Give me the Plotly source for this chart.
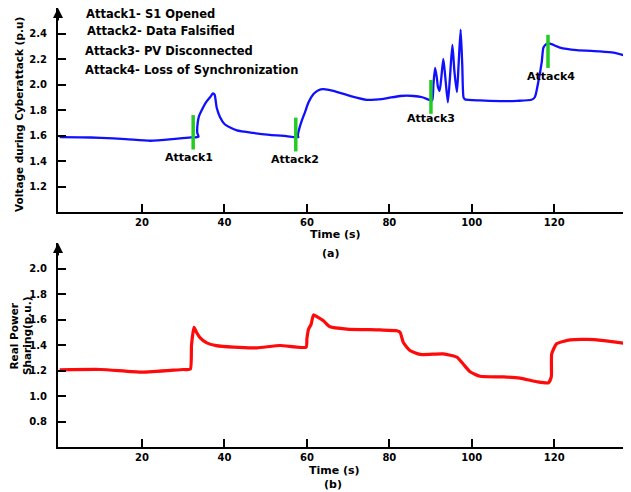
import plotly.graph_objects as go

# ---- data ----
volt_t = [0, 5, 10, 16, 22, 28, 32, 33.0, 33.7, 33.4, 33.5, 33.8, 34.5, 35.5, 36.5, 37.2, 37.6, 38.1, 38.9, 40, 41.5, 43, 47, 51, 55, 57.9,
          57.8, 58.2, 58.8, 59.5, 60.4, 61.6, 62.8, 64, 66.4, 70.5, 74.5, 78.6, 82.6, 85.9, 88, 89.7, 90.4,
          90.7, 91.1, 91.5, 91.8, 92.2, 92.6, 93.1, 93.6, 94.2, 94.7, 95.3, 95.8, 96.4, 96.8, 97.3, 97.7, 98.0, 98.3,
          102, 106.9, 111, 114.5, 115.3,
          116.2, 117.0, 117.4, 118.2, 119.0, 121.4, 125.5, 131.1, 134.4, 136.8]
volt_v = [1.587, 1.586, 1.582, 1.572, 1.559, 1.573, 1.585, 1.586, 1.59, 1.62, 1.70, 1.75, 1.80, 1.86, 1.90, 1.93, 1.92, 1.82, 1.745, 1.69, 1.66, 1.64, 1.62, 1.605, 1.595, 1.587,
          1.60, 1.66, 1.72, 1.78, 1.86, 1.925, 1.955, 1.963, 1.95, 1.91, 1.88, 1.888, 1.91, 1.91, 1.90, 1.88, 1.875,
          2.0, 2.13, 2.06, 1.98, 1.95, 2.05, 2.20, 2.05, 1.86, 2.05, 2.31, 2.10, 1.94, 2.15, 2.43, 2.15, 1.90, 1.885,
          1.875, 1.87, 1.872, 1.88, 1.90,
          2.03, 2.18, 2.29, 2.32, 2.32, 2.29, 2.27, 2.26, 2.25, 2.23]

power_t = [0, 10, 20, 30, 31.7, 32.0, 32.6, 33.2, 34.1, 35.7, 38, 42.2, 47.8, 53.5, 59.8, 60.0, 60.4, 61.0, 61.6, 62.5, 64, 65.6, 69.7, 77.7,
           81.8, 82.6, 83.4, 85, 87.5, 93.1, 96.4, 98.2, 99.6, 102, 107.7, 111.7, 115.8, 118.6, 119.3, 119.4, 120.6, 123.9, 127.9, 132, 136.8]
power_v = [1.205, 1.208, 1.187, 1.208, 1.21, 1.40, 1.538, 1.50, 1.456, 1.417, 1.395, 1.383, 1.378, 1.396, 1.383, 1.45, 1.525, 1.56, 1.636, 1.62, 1.59, 1.543, 1.525, 1.518,
           1.512, 1.50, 1.42, 1.357, 1.326, 1.33, 1.305, 1.24, 1.19, 1.155, 1.15, 1.14, 1.112, 1.104, 1.15, 1.33, 1.41, 1.44, 1.444, 1.435, 1.414]

attack_t = [32.4, 57.3, 90.1, 118.5]
attack_lo = [1.49, 1.475, 1.77, 2.13]
attack_hi = [1.76, 1.74, 2.036, 2.39]
attack_names = ["Attack1", "Attack2", "Attack3", "Attack4"]
legend_lines = ["Attack1- S1 Opened", "Attack2- Data Falsified",
                "Attack3- PV Disconnected", "Attack4- Loss of Synchronization"]

x_ticks = [20, 40, 60, 80, 100, 120]
volt_ticks = [1.2, 1.4, 1.6, 1.8, 2.0, 2.2, 2.4]
power_ticks = [0.8, 1.0, 1.2, 1.4, 1.6, 1.8, 2.0]

# ---- figure ----
OFF = 8                      # page body margin of the html page
W, H = 631 - OFF, 492 - OFF
L, R, T, B = 58 - OFF, 1, 0, 45
PW, PH = W - L - R, H - T - B


def px(xp):                  # reference pixel -> paper x
    return (xp - OFF - L) / PW


def py(yp):                  # reference pixel -> paper y
    return (H - B - (yp - OFF)) / PH


BOLD = dict(family="DejaVu Sans", weight="bold", color="black")

fig = go.Figure()
fig.add_trace(go.Scatter(x=volt_t, y=volt_v, mode="lines",
                         line=dict(color="#1010ff", width=2.3, shape="spline", smoothing=0.6),
                         xaxis="x", yaxis="y", showlegend=False, hoverinfo="skip"))
for t, lo, hi in zip(attack_t, attack_lo, attack_hi):
    fig.add_trace(go.Scatter(x=[t, t], y=[lo, hi], mode="lines", line=dict(color="#22cc22", width=3.5),
                             xaxis="x", yaxis="y", showlegend=False, hoverinfo="skip"))
fig.add_trace(go.Scatter(x=power_t, y=power_v, mode="lines",
                         line=dict(color="#ff0a0a", width=3.2, shape="spline", smoothing=0.5),
                         xaxis="x2", yaxis="y2", showlegend=False, hoverinfo="skip"))

top_dom = [py(212), py(8)]
bot_dom = [py(447), py(243)]

axis_common = dict(showgrid=False, zeroline=False, showline=True, linecolor="black", linewidth=2,
                   ticks="inside", ticklen=8, tickwidth=1.5, tickcolor="black",
                   tickfont=dict(size=10, **BOLD))

fig.update_layout(
    width=W, height=H, margin=dict(l=L, r=R, t=T, b=B),
    paper_bgcolor="white", plot_bgcolor="white",
    xaxis=dict(domain=[0, 1], range=[-0.4, 138.4], anchor="y", tickvals=x_ticks,
               ticklabelstandoff=0, **axis_common),
    yaxis=dict(domain=top_dom, range=[1.0, 2.6], anchor="x", tickvals=volt_ticks,
               tickformat=".1f", ticklabelstandoff=7, **axis_common),
    xaxis2=dict(domain=[0, 1], range=[-0.4, 138.4], anchor="y2", tickvals=x_ticks,
                ticklabelstandoff=0, **axis_common),
    yaxis2=dict(domain=bot_dom, range=[0.6, 2.2], anchor="x2", tickvals=power_ticks,
                tickformat=".1f", ticklabelstandoff=7, **axis_common),
)

ann = []
for txt, yy, xx in zip(legend_lines, [14, 31, 51, 70], [85, 86, 84, 84]):
    ann.append(dict(text=txt, x=px(xx), y=py(yy), xref="paper", yref="paper", xanchor="left",
                    yanchor="middle", showarrow=False, borderpad=0, font=dict(size=11.5, **BOLD)))
label_pos = [(31.4, 1.43), (57.1, 1.413), (90.1, 1.732), (119.3, 2.06)]
for name, (lx, ly) in zip(attack_names, label_pos):
    ann.append(dict(text=name, x=lx, y=ly, xref="x", yref="y", showarrow=False,
                    xanchor="center", yanchor="middle", font=dict(size=11, **BOLD)))


def centered(text, xr, yr, size=11, angle=0):
    return dict(text=text, x=px(xr), y=py(yr), xref="paper", yref="paper", showarrow=False,
                xanchor="center", yanchor="middle", textangle=angle, borderpad=0,
                font=dict(size=size, **BOLD))


ann += [
    centered("Time (s)", 335, 234.5),
    centered("(a)", 330, 253),
    centered("Time (s)", 334, 470),
    centered("(b)", 333, 484),
    centered("Voltage during Cyberattack (p.u)", 19, 115, size=10.5, angle=-90),
    centered("Real Power", 13.5, 336, size=10.5, angle=-90),
    centered("Sharing(p.u.)", 27, 336, size=10.5, angle=-90),
]
for xr, yr in [("x", "y"), ("x2", "y2")]:
    ann.append(dict(text="", x=0, y=1, xref=f"{xr} domain", yref=f"{yr} domain",
                    ax=0, ay=14, axref="pixel", ayref="pixel",
                    showarrow=True, arrowhead=2, arrowsize=1, arrowwidth=2, arrowcolor="black",
                    standoff=0))
fig.update_layout(annotations=ann)

fig.write_html("out.html")
